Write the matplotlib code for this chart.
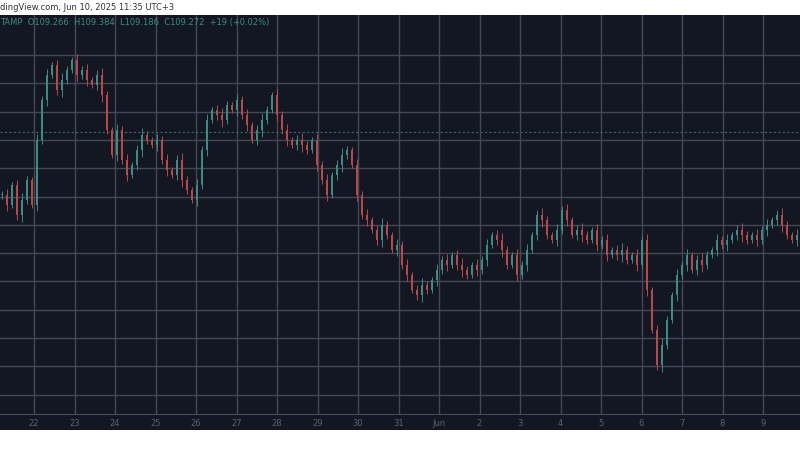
import numpy as np
import matplotlib.pyplot as plt
from matplotlib.patches import Rectangle

# closing levels (arbitrary price units)
close = [305, 295, 315, 285, 300, 320, 295, 360, 400, 425, 435, 410, 420, 430, 440, 425,
         430, 420, 415, 425, 405, 370, 345, 370, 340, 325, 335, 350, 365, 360, 355, 360,
         340, 330, 325, 340, 320, 310, 300, 315, 350, 380, 390, 385, 380, 395, 390, 400,
         385, 375, 360, 370, 380, 390, 405, 385, 370, 360, 355, 360, 355, 350, 360, 335,
         320, 305, 325, 335, 345, 350, 335, 305, 285, 280, 270, 260, 275, 265, 250, 255,
         235, 225, 210, 205, 215, 210, 220, 230, 240, 235, 245, 235, 230, 225, 235, 230,
         240, 255, 265, 260, 250, 235, 245, 225, 235, 250, 265, 285, 280, 265, 260, 270,
         290, 280, 265, 270, 265, 260, 270, 255, 260, 245, 250, 245, 250, 240, 245, 235,
         260, 210, 170, 135, 155, 180, 205, 225, 235, 245, 230, 240, 235, 245, 250, 260,
         255, 260, 265, 270, 265, 260, 265, 260, 270, 275, 280, 285, 275, 265, 260, 265, 300]
wick = [4, 6, 3, 5, 7, 4, 3, 6]
day_labels = ['22', '23', '24', '25', '26', '27', '28', '29', '30', '31', 'Jun',
              '2', '3', '4', '5', '6', '7', '8', '9']

bg = '#131722'
up, down = '#3e8a86', '#b9484a'
grid = '#454955'

fig = plt.figure(figsize=(8, 4.5), dpi=100, facecolor='white')
ax = fig.add_axes([0, 35 / 450, 1, 400 / 450])
ax.set_facecolor(bg)
fig.patches.append(Rectangle((0, 20 / 450), 1, 15 / 450, transform=fig.transFigure,
                             facecolor=bg, edgecolor='none', zorder=0))

xs = np.arange(len(close)) * 5 + 2
prev = close[0]
for i, (x, c) in enumerate(zip(xs, close)):
    o = prev
    w = wick[i % len(wick)]
    col = up if c >= o else down
    ax.vlines(x, min(o, c) - w, max(o, c) + w, color=col, lw=0.7, zorder=3)
    ax.add_patch(Rectangle((x - 1.1, min(o, c)), 2.2, max(abs(c - o), 0.8),
                           facecolor=col, edgecolor='none', zorder=3))
    prev = c

ax.set_xlim(0, 800)
ax.set_ylim(85, 485)
for k in range(13):
    ax.axhline(445 - 28.3 * k, color=grid, lw=1, zorder=1)
day_x = [34 + 40.5 * k for k in range(len(day_labels))]
for x in day_x:
    ax.axvline(x, color=grid, lw=1, zorder=1)
ax.axhline(368, color='#2f6f6c', lw=0.8, ls=(0, (2, 2)), zorder=2)
ax.axhline(85, color='#4a4e5a', lw=1.5, zorder=4)
ax.set_xticks([])
ax.set_yticks([])
for s in ax.spines.values():
    s.set_visible(False)

for x, lab in zip(day_x, day_labels):
    fig.text(x / 800, 27 / 450, lab, color='#5d6270', fontsize=6, ha='center', va='center')

fig.text(0.0, 1 - 7 / 450, 'dingView.com, Jun 10, 2025 11:35 UTC+3', fontsize=6,
         color='#333333', va='center', ha='left')
fig.text(0.0, 1 - 23 / 450, 'TAMP  O109.266  H109.384  L109.186  C109.272  +19 (+0.02%)',
         fontsize=6, color='#3e8a86', va='center', ha='left')

fig.savefig('out.png', dpi=100, facecolor='white')
